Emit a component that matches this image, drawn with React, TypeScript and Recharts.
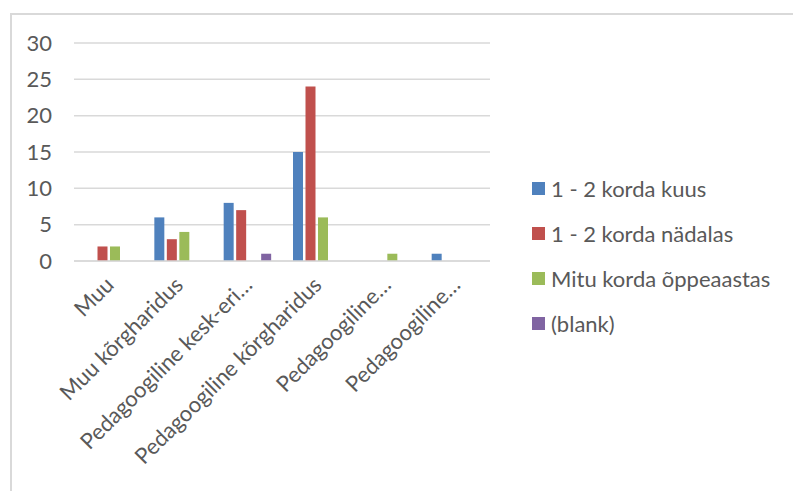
import { BarChart, Bar, XAxis, YAxis, CartesianGrid, Legend } from "recharts";

const categories = [
  "Muu",
  "Muu kõrgharidus",
  "Pedagoogiline kesk-eri…",
  "Pedagoogiline kõrgharidus",
  "Pedagoogiline…",
  "Pedagoogiline…",
];
const kuus = [0, 6, 8, 15, 0, 1];
const nadalas = [2, 3, 7, 24, 0, 0];
const oppeaastas = [2, 4, 0, 6, 1, 0];
const blank = [0, 0, 1, 0, 0, 0];
const yTicks = [0, 5, 10, 15, 20, 25, 30];

const series = [
  { key: "kuus", name: "1 - 2 korda kuus", color: "#4F81BD" },
  { key: "nadalas", name: "1 - 2 korda nädalas", color: "#C0504D" },
  { key: "oppeaastas", name: "Mitu korda õppeaastas", color: "#9BBB59" },
  { key: "blank", name: "(blank)", color: "#8064A2" },
];

const data = categories.map((c, i) => ({
  id: i,
  name: c,
  kuus: kuus[i],
  nadalas: nadalas[i],
  oppeaastas: oppeaastas[i],
  blank: blank[i],
}));

const FONT = "Lato, 'Liberation Sans', sans-serif";
const TEXT = "#595959";

function AngledTick(props: any) {
  const { x, y, payload } = props;
  const px = x + 1;
  const py = y + 12;
  return (
    <text
      x={px}
      y={py}
      transform={`rotate(-45, ${px}, ${py})`}
      textAnchor="end"
      dy="0.35em"
      fill={TEXT}
      fontSize={22}
      fontFamily={FONT}
    >
      {categories[payload.value]}
    </text>
  );
}

function LegendList() {
  return (
    <div style={{ fontFamily: FONT, fontSize: 22, color: TEXT }}>
      {series.map((s) => (
        <div
          key={s.key}
          style={{ display: "flex", alignItems: "center", height: 45 }}
        >
          <span
            style={{
              width: 13,
              height: 13,
              background: s.color,
              marginRight: 6,
              display: "inline-block",
            }}
          />
          <span>{s.name}</span>
        </div>
      ))}
    </div>
  );
}

export default function App() {
  return (
    <div
      style={{
        position: "fixed",
        left: 0,
        top: 0,
        width: 793,
        height: 491,
        background: "#fff",
        overflow: "hidden",
      }}
    >
      <div
        style={{
          position: "absolute",
          left: 10,
          top: 13,
          width: 800,
          height: 500,
          borderTop: "2px solid #d9d9d9",
          borderLeft: "2px solid #d9d9d9",
        }}
      />
      <div style={{ position: "absolute", left: 0, top: 0 }}>
        <BarChart
          width={793}
          height={491}
          data={data}
          margin={{ top: 43, right: 303, bottom: 0, left: 0 }}
          barSize={10}
          barGap={2.5}
        >
          <CartesianGrid vertical={false} stroke="#d9d9d9" strokeWidth={1.5} />
          <XAxis
            dataKey="id"
            type="category"
            height={230}
            interval={0}
            tickLine={false}
            axisLine={{ stroke: "#d9d9d9", strokeWidth: 1.5 }}
            tick={<AngledTick />}
          />
          <YAxis
            width={74}
            domain={[0, 30]}
            ticks={yTicks}
            tickLine={false}
            axisLine={false}
            tickSize={0}
            tickMargin={22}
            tick={{ fill: TEXT, fontSize: 22, fontFamily: FONT }}
          />
          {series.map((s) => (
            <Bar
              key={s.key}
              dataKey={s.key}
              name={s.name}
              fill={s.color}
              isAnimationActive={false}
            />
          ))}
          <Legend
            layout="horizontal"
            verticalAlign="middle"
            align="center"
            wrapperStyle={{ position: "absolute", left: 532, top: 166, width: 260 }}
            content={() => <LegendList />}
          />
        </BarChart>
      </div>
    </div>
  );
}
